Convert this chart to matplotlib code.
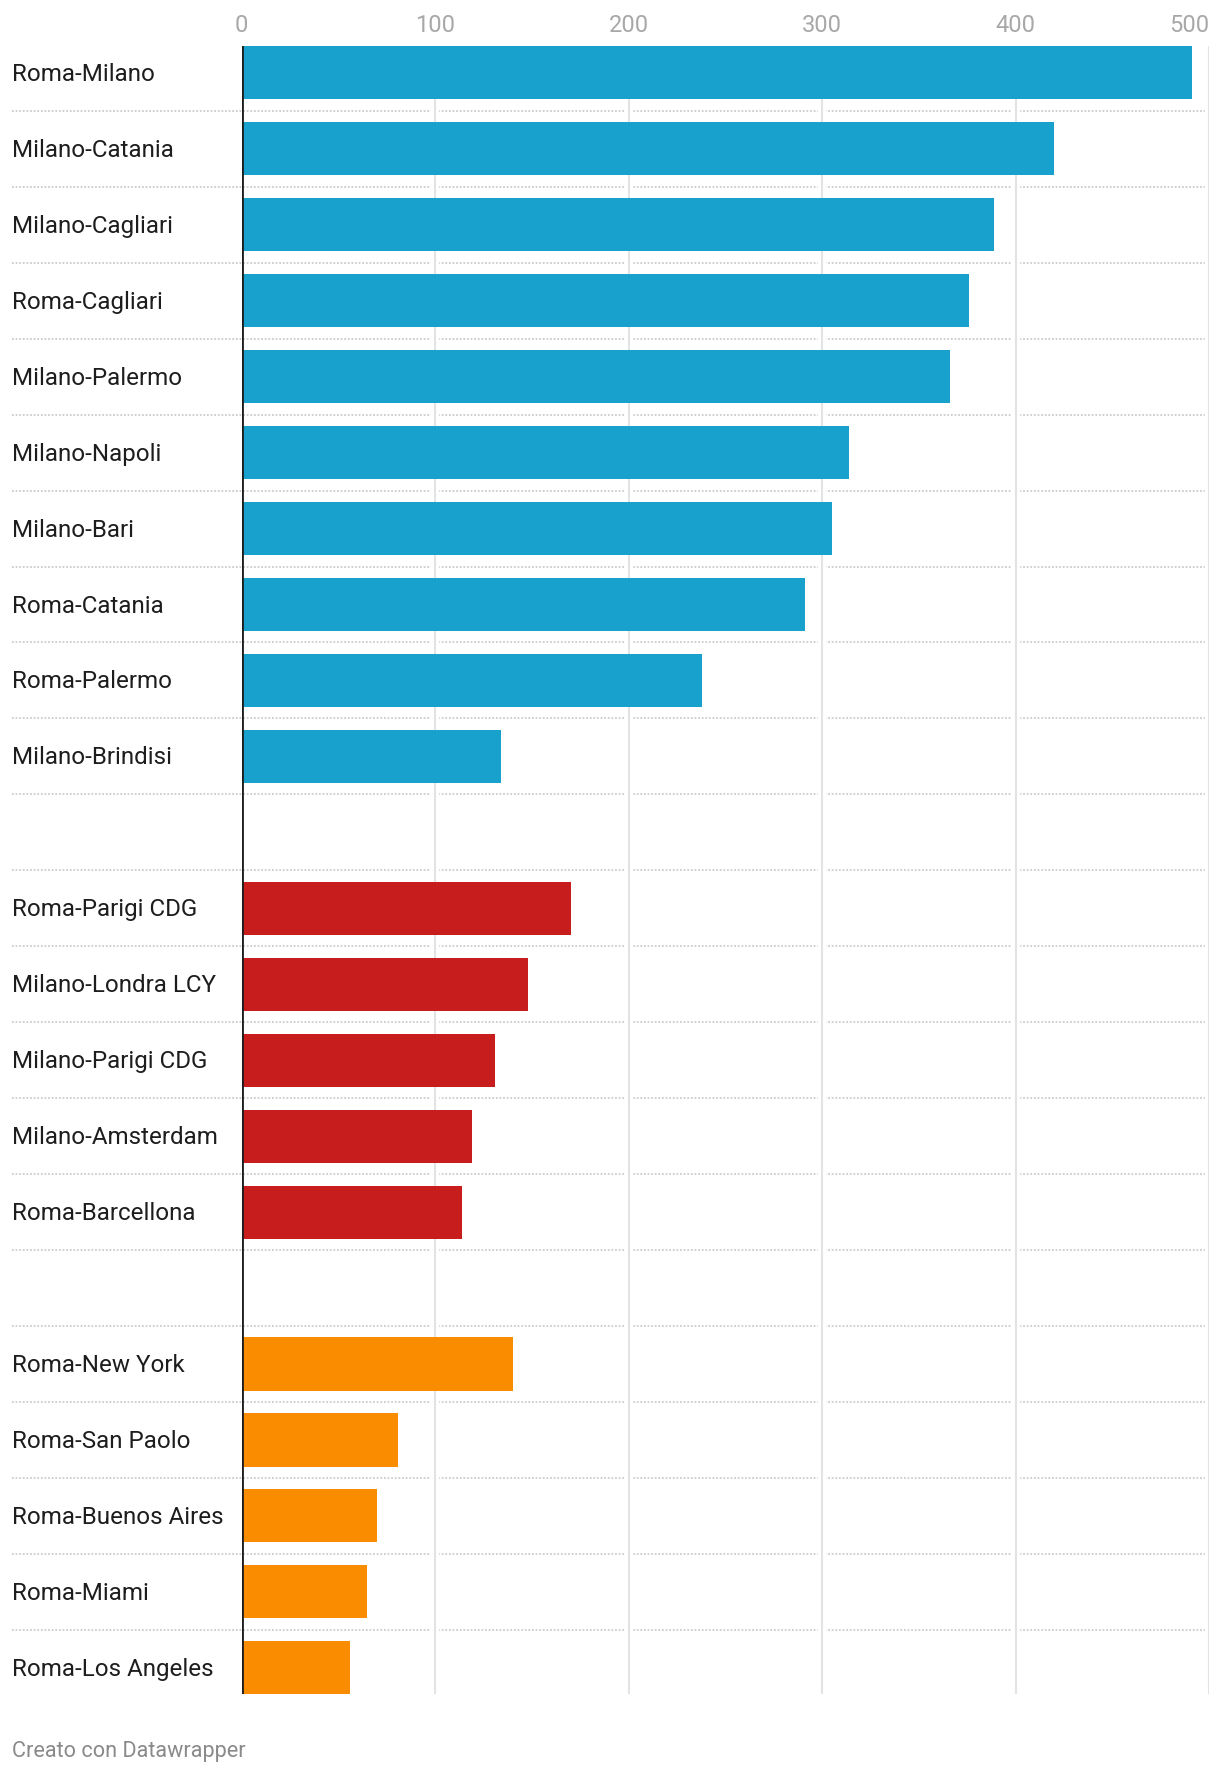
import matplotlib.pyplot as plt
import matplotlib.patheffects as pe
import numpy as np

plt.rcParams['font.family'] = ['Roboto', 'DejaVu Sans']

# data
italia = ['Roma-Milano', 'Milano-Catania', 'Milano-Cagliari', 'Roma-Cagliari',
          'Milano-Palermo', 'Milano-Napoli', 'Milano-Bari', 'Roma-Catania',
          'Roma-Palermo', 'Milano-Brindisi']
italia_vals = [491, 420, 389, 376, 366, 314, 305, 291, 238, 134]

europa = ['Roma-Parigi CDG', 'Milano-Londra LCY', 'Milano-Parigi CDG',
          'Milano-Amsterdam', 'Roma-Barcellona']
europa_vals = [170, 148, 131, 119, 114]

intercont = ['Roma-New York', 'Roma-San Paolo', 'Roma-Buenos Aires',
             'Roma-Miami', 'Roma-Los Angeles']
intercont_vals = [140, 81, 70, 65, 56]

xticks = [0, 100, 200, 300, 400, 500]

groups = [(italia, italia_vals, '#18a1cd'),
          (europa, europa_vals, '#c71e1d'),
          (intercont, intercont_vals, '#fa8c00')]

fig = plt.figure(figsize=(12.2, 17.72), dpi=100)
ax = fig.add_axes([0.1981, 0.0438, 0.7929, 0.9301])

pos = 0
for names, vals, col in groups:
    y = np.arange(pos, pos + len(names))
    ax.barh(y, vals, height=0.7, color=col, zorder=3)
    for yy, name in zip(y, names):
        ax.text(-0.2375, yy + 0.02, name, transform=ax.get_yaxis_transform(),
                ha='left', va='center', fontsize=17.4, color='#1d1d1d')
    pos += len(names) + 1

nrows = pos - 1
ax.set_ylim(nrows - 1 + 0.35, -0.35)
ax.set_xlim(0, 500)

# dotted row separators
for k in range(nrows - 1):
    ax.axhline(k + 0.5, xmin=-0.2375, xmax=1, color='#cccccc', lw=1.3,
               ls=(0, (1, 1)), clip_on=False, zorder=1)

# vertical gridlines
for t in xticks[1:]:
    ax.axvline(t, color='#e3e3e3', lw=1.5, zorder=2,
               path_effects=[pe.Stroke(linewidth=6, foreground='white'), pe.Normal()])
ax.axvline(0, color='#1d1d1d', lw=2, zorder=4)

ax.xaxis.tick_top()
ax.set_xticks(xticks)
ax.set_xticklabels([str(t) for t in xticks])
ax.tick_params(axis='x', length=0, pad=7, labelsize=17, labelcolor='#a8a8a8')
ax.get_xticklabels()[-1].set_horizontalalignment('right')
ax.get_xticklabels()[-1].set_x(500)
ax.set_yticks([])
for s in ax.spines.values():
    s.set_visible(False)

fig.text(12 / 1220, 1 - 1751 / 1772, 'Creato con Datawrapper', fontsize=15.6,
         color='#8a8a8a', ha='left', va='center')

fig.savefig('out.png', dpi=100)
